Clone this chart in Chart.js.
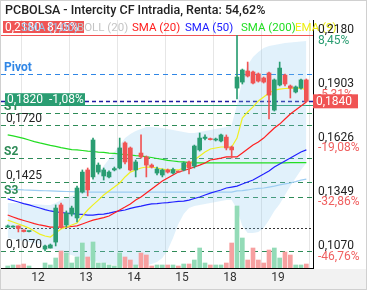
<!DOCTYPE html>
<html>
<head>
<meta charset="utf-8">
<script src="https://cdn.jsdelivr.net/npm/chart.js@4.4.1/dist/chart.umd.min.js"></script>
<style>html,body{margin:0;padding:0;background:#fff}canvas{display:block}</style>
</head>
<body>
<canvas id="c" width="367" height="290"></canvas>
<script>
// Intraday candles (one per hour), index 0..56
const openP  = [0.1193,0.1193,0.1199,0.1178,0.1170,null,null,0.1080,0.1085,0.1116, 0.1307,0.1204,0.1260,0.1240,0.1373,0.1487,0.1451,0.1476,0.1456,0.1451, 0.1487,0.1497,0.1626,0.1600,0.1487,0.1574,0.1554,0.1512,0.1471,0.1461, 0.1487,0.1471,0.1479,0.1487,0.1528,0.1507,0.1590,0.1649,0.1646,0.1641, 0.1636,0.1656,0.1605,0.1908,0.1939,0.1996,0.1991,0.1981,0.1960,0.1986, 0.1795,0.1924,0.1975,0.1919,0.1888,0.1908,0.1950];
const closeP = [0.1199,0.1196,0.1186,0.1170,0.1173,null,null,0.1096,0.1101,0.1291, 0.1193,0.1265,0.1291,0.1394,0.1476,0.1384,0.1641,0.1512,0.1487,0.1476, 0.1494,0.1600,0.1528,0.1487,0.1528,0.1554,0.1512,0.1502,0.1492,0.1487, 0.1476,0.1489,0.1476,0.1523,0.1497,0.1610,0.1651,0.1656,0.1643,0.1646, 0.1667,0.1600,0.1590,0.1965,0.2001,0.1970,0.1934,0.1944,0.1939,0.1872, 0.1950,0.2011,0.1929,0.1908,0.1914,0.1950,0.1840];
const highP  = [0.1204,0.1199,0.1199,0.1178,0.1173,null,null,0.1101,0.1106,0.1307, 0.1317,0.1276,0.1301,0.1404,0.1487,0.1497,0.1651,0.1523,0.1497,0.1482, 0.1502,0.1651,0.1631,0.1605,0.1538,0.1667,0.1559,0.1518,0.1502,0.1492, 0.1492,0.1497,0.1482,0.1528,0.1533,0.1615,0.1677,0.1667,0.1651,0.1651, 0.1672,0.1667,0.1610,0.2180,0.2006,0.2042,0.1996,0.1986,0.1965,0.1991, 0.1955,0.2042,0.1980,0.1924,0.1919,0.1955,0.1955];
const lowP   = [0.1191,0.1193,0.1168,0.1168,0.1168,null,null,0.1070,0.1085,0.1096, 0.1188,0.1193,0.1250,0.1219,0.1368,0.1353,0.1440,0.1466,0.1435,0.1446, 0.1482,0.1492,0.1518,0.1482,0.1451,0.1548,0.1451,0.1497,0.1461,0.1451, 0.1471,0.1466,0.1474,0.1482,0.1466,0.1497,0.1584,0.1641,0.1641,0.1636, 0.1631,0.1590,0.1548,0.1852,0.1929,0.1965,0.1929,0.1939,0.1934,0.1749, 0.1790,0.1919,0.1919,0.1857,0.1883,0.1903,0.1836];
const volume = [2,3,3,4,2,null,null,5,3,10, 17,15,5,11,25,11,26,5,5,3, 2,15,11,8,3,15,13,2,3,3, 3,3,2,4,4,8,20,5,3,3, 3,5,25,62,30,8,20,8,5,18, 20,10,16,13,3,3,4];

// Indicators
const sma20  = [0.1255,0.1245,0.1235,0.1227,0.1219,0.1211,0.1204,0.1199,0.1193,0.1193, 0.1193,0.1193,0.1196,0.1199,0.1209,0.1219,0.1229,0.1235,0.1242,0.1250, 0.1265,0.1281,0.1296,0.1312,0.1332,0.1348,0.1368,0.1389,0.1410,0.1430, 0.1446,0.1461,0.1476,0.1484,0.1492,0.1502,0.1512,0.1523,0.1538,0.1543, 0.1548,0.1554,0.1554,0.1554,0.1574,0.1595,0.1615,0.1631,0.1651,0.1677, 0.1703,0.1723,0.1749,0.1775,0.1795,0.1816,0.1836];
const sma50  = [0.1338,0.1330,0.1322,0.1314,0.1307,0.1299,0.1291,0.1283,0.1276,0.1271, 0.1268,0.1265,0.1263,0.1260,0.1258,0.1255,0.1255,0.1258,0.1260,0.1265, 0.1271,0.1276,0.1281,0.1289,0.1296,0.1301,0.1307,0.1312,0.1314,0.1317, 0.1319,0.1322,0.1325,0.1327,0.1332,0.1340,0.1348,0.1358,0.1368,0.1376, 0.1384,0.1394,0.1399,0.1404,0.1415,0.1425,0.1435,0.1451,0.1466,0.1482, 0.1502,0.1518,0.1533,0.1548,0.1564,0.1579,0.1590];
const sma200 = [0.1667,0.1662,0.1656,0.1649,0.1641,0.1633,0.1626,0.1620,0.1613,0.1608, 0.1602,0.1597,0.1592,0.1590,0.1587,0.1584,0.1582,0.1579,0.1577,0.1574, 0.1572,0.1569,0.1566,0.1564,0.1561,0.1559,0.1554,0.1551,0.1546,0.1541, 0.1536,0.1533,0.1530,0.1528,0.1525,0.1523,0.1523,0.1523,0.1523,0.1523, 0.1523,0.1523,0.1523,0.1523,0.1523,0.1523,0.1523,0.1523,0.1523,0.1523, 0.1523,0.1523,0.1523,0.1525,0.1525,0.1525,0.1525];
const ema9   = [0.1229,0.1219,0.1209,0.1199,0.1188,0.1173,0.1157,0.1147,0.1142,0.1163, 0.1183,0.1193,0.1204,0.1214,0.1250,0.1281,0.1307,0.1332,0.1358,0.1379, 0.1399,0.1420,0.1451,0.1476,0.1487,0.1497,0.1502,0.1502,0.1497,0.1492, 0.1487,0.1487,0.1487,0.1497,0.1518,0.1538,0.1559,0.1579,0.1595,0.1600, 0.1605,0.1605,0.1605,0.1651,0.1754,0.1785,0.1811,0.1842,0.1862,0.1883, 0.1898,0.1903,0.1906,0.1908,0.1908,0.1908,0.1898];
const refLine = [0.1389,0.1387,0.1386,0.1384,0.1383,0.1382,0.1381,0.1380,0.1379,0.1378, 0.1377,0.1376,0.1375,0.1374,0.1374,0.1373,0.1373,0.1373,0.1373,0.1373, 0.1373,0.1373,0.1373,0.1373,0.1373,0.1373,0.1373,0.1373,0.1373,0.1373, 0.1373,0.1373,0.1373,0.1373,0.1373,0.1373,0.1373,0.1373,0.1373,0.1373, 0.1373,0.1373,0.1373,0.1379,0.1381,0.1384,0.1389,0.1392,0.1394,0.1399, 0.1404,0.1410,0.1415,0.1420,0.1427,0.1435,0.1440];
const bollUp  = [0.1317,0.1317,0.1317,0.1314,0.1312,0.1312,0.1309,0.1307,0.1307,0.1317, 0.1332,0.1343,0.1353,0.1363,0.1394,0.1415,0.1435,0.1471,0.1507,0.1543, 0.1579,0.1615,0.1651,0.1672,0.1687,0.1698,0.1708,0.1708,0.1705,0.1703, 0.1698,0.1692,0.1687,0.1682,0.1677,0.1677,0.1682,0.1687,0.1692,0.1698, 0.1703,0.1708,0.1718,0.1821,0.1950,0.2027,0.2068,0.2094,0.2114,0.2125, 0.2130,0.2135,0.2140,0.2143,0.2145,0.2148,0.2150];
const bollLow = [0.1137,0.1132,0.1127,0.1121,0.1116,0.1111,0.1106,0.1096,0.1085,0.1075, 0.1065,0.1055,0.1049,0.1039,0.1034,0.1024,0.1019,0.1013,0.1008,0.1003, 0.0998,0.0995,0.0993,0.0993,0.0993,0.0993,0.0998,0.1003,0.1013,0.1034, 0.1075,0.1137,0.1209,0.1260,0.1291,0.1301,0.1307,0.1312,0.1317,0.1322, 0.1327,0.1332,0.1332,0.1286,0.1199,0.1163,0.1163,0.1168,0.1188,0.1229, 0.1276,0.1312,0.1358,0.1404,0.1446,0.1487,0.1523];

// Day boundaries on the x axis
const dayTicks  = [7, 16, 25, 34, 43, 52];
const dayLabels = ["12", "13", "14", "15", "18", "19"];

// Right axis ticks
const priceTicks = [0.2180, 0.1903, 0.1626, 0.1349, 0.1070];
const pctTicks   = ["8,45%", "-5,31%", "-19,08%", "-32,86%", "-46,76%"];

// Horizontal levels
const pivot = 0.1980;
const supports = [["S1", 0.1782], ["S2", 0.1548], ["S3", 0.1348]];
const supportPrices = [0.1720, 0.1425, 0.1070];
const maxPrice = 0.2180, lastPrice = 0.1840, refPrice = 0.1820, lowGuide = 0.1186;
const lastPct = "-1,08%", maxPct = "8,45%";
const title = "PCBOLSA - Intercity CF Intradia, Renta: 54,62%";

const UP = "#2a9d72", DOWN = "#f05454";
const idx = openP.map((_, i) => i);
const has = i => openP[i] !== null;
const isUp = i => closeP[i] >= openP[i];
const fmt = v => v.toFixed(4).replace(".", ",");
const pts = arr => arr.map((v, i) => ({x: i, y: v}));
const line = (label, arr, color, order) => ({
  type: "line", label, data: pts(arr), borderColor: color, borderWidth: 1.2,
  pointRadius: 0, fill: false, tension: 0, order, yAxisID: "y"
});

const levelsPlugin = {
  id: "levels",
  beforeDraw(chart){
    const c = chart.ctx;
    c.save();
    c.fillStyle = "#fff"; c.fillRect(0, 0, chart.width, chart.height);
    c.fillStyle = "#f2f2f2"; c.fillRect(1, 269, 365, 20);
    c.restore();
  },
  beforeDatasetsDraw(chart){
    const c = chart.ctx, a = chart.chartArea, y = chart.scales.y;
    const hl = (v, color, dash, w) => {
      const p = Math.round(y.getPixelForValue(v)) + 0.5;
      c.beginPath(); c.setLineDash(dash); c.strokeStyle = color; c.lineWidth = w || 1;
      c.moveTo(a.left, p); c.lineTo(a.right, p); c.stroke();
    };
    c.save();
    hl(maxPrice, DOWN, []);
    hl(pivot, "#2f86e6", [5, 4]);
    supports.forEach(s => hl(s[1], "#2e8b57", [5, 4]));
    supportPrices.forEach(v => hl(v, "#2e8b57", [5, 4]));
    hl(lowGuide, "#333", [2, 2]);
    hl(refPrice, UP, []);
    hl(lastPrice, "#1c1ca0", [4, 3], 1.3);
    c.restore();
  },
  afterDraw(chart){
    const c = chart.ctx, y = chart.scales.y;
    const py = v => y.getPixelForValue(v);
    c.save();
    c.textBaseline = "middle";
    c.setLineDash([]);

    // left level labels
    c.font = "bold 12px Roboto";
    c.fillStyle = "#2f86e6"; c.fillText("Pivot", 4, py(pivot) - 6);
    c.fillStyle = "#2e8b57";
    supports.forEach(s => c.fillText(s[0], 4, py(s[1]) - 6));
    c.font = "12px Roboto"; c.fillStyle = "#222";
    supportPrices.forEach(v => c.fillText(fmt(v), 6, py(v) - 6));

    // left value box for the reference close
    const gy = py(refPrice);
    c.fillStyle = UP; c.fillRect(5, gy - 12, 80, 12);
    c.fillStyle = "#fff"; c.font = "12px Roboto";
    c.fillText(fmt(refPrice) + "  " + lastPct, 7, gy - 5.5);

    // top-left max box + legend
    c.fillStyle = DOWN; c.fillRect(3, 21, 81, 12);
    c.fillStyle = "#fff"; c.fillText(fmt(maxPrice) + "  " + maxPct, 5, 27.5);
    c.font = "11.5px Roboto";
    c.fillStyle = "rgba(150,200,240,0.95)"; c.fillText("SMA (1,00)", 21, 28);
    const legend = [["BOLL (20)", "#c4c4c4", 77], ["SMA (20)", "#ff2020", 132],
      ["SMA (50)", "#2020ff", 185], ["SMA (200)", "#22dd22", 241], ["EMA (9)", "#eeee10", 295]];
    legend.forEach(l => { c.fillStyle = l[1]; c.fillText(l[0], l[2], 28); });

    // title
    c.font = "500 12.5px Roboto"; c.fillStyle = "#222";
    c.fillText(title, 5, 11);

    // right axis labels
    c.font = "12px Roboto";
    priceTicks.forEach((v, i) => {
      const p = py(v);
      c.fillStyle = "#222"; c.fillText(fmt(v), 318, p - 5);
      c.fillStyle = pctTicks[i].startsWith("-") ? "#f06060" : UP;
      c.fillText(pctTicks[i], 318, p + 5.5);
    });
    const lp = py(lastPrice);
    c.fillStyle = DOWN; c.fillRect(313, lp - 7, 45, 14);
    c.fillStyle = "#fff"; c.fillText(fmt(lastPrice), 316, lp + 0.5);

    // outer frame
    c.strokeStyle = "#d0d0d0"; c.lineWidth = 1;
    c.strokeRect(0.5, 0.5, chart.width - 1, chart.height - 1);
    c.restore();
  }
};

const candles = idx.filter(has);

new Chart(document.getElementById("c"), {
  type: "bar",
  data: {
    datasets: [
      { label: "body", data: candles.map(i => ({x: i, y: [openP[i], closeP[i]]})),
        backgroundColor: candles.map(i => isUp(i) ? UP : DOWN),
        barThickness: 4, grouped: false, minBarLength: 1, order: 0, yAxisID: "y" },
      { label: "wick", data: candles.map(i => ({x: i, y: [lowP[i], highP[i]]})),
        backgroundColor: candles.map(i => isUp(i) ? UP : DOWN),
        barThickness: 1, grouped: false, order: 1, yAxisID: "y" },
      line("EMA (9)", ema9, "#f0f020", 2),
      line("SMA (20)", sma20, "#ff2020", 3),
      line("SMA (50)", sma50, "#2020ff", 4),
      line("SMA (200)", sma200, "#22dd22", 5),
      line("SMA (1,00)", refLine, "#9dcdf2", 6),
      { label: "vol", data: candles.map(i => ({x: i, y: volume[i]})),
        backgroundColor: candles.map(i => isUp(i) ? "#93dbb7" : "#f7a0a0"),
        barThickness: 4, grouped: false, order: 7, yAxisID: "yv" },
      { type: "line", label: "BOLL up", data: pts(bollUp), borderWidth: 0, pointRadius: 0,
        fill: "+1", backgroundColor: "rgba(140,200,240,0.26)", order: 8, yAxisID: "y" },
      { type: "line", label: "BOLL low", data: pts(bollLow), borderWidth: 0, pointRadius: 0,
        fill: false, order: 9, yAxisID: "y" }
    ]
  },
  options: {
    responsive: false, animation: false, devicePixelRatio: 1,
    layout: { padding: { top: 20, left: 1, right: 0, bottom: 0 } },
    plugins: { legend: { display: false }, tooltip: { enabled: false } },
    scales: {
      x: {
        type: "linear", min: -1.256, max: 57.25, offset: false,
        grid: { color: "#e6e6e6", drawTicks: false },
        border: { display: true, color: "#000" },
        afterBuildTicks: s => { s.ticks = dayTicks.map(v => ({value: v})); },
        afterFit: s => { s.height = 22; },
        ticks: { color: "#333", font: { family: "Roboto", size: 12 }, padding: 3, labelOffset: -7,
          maxRotation: 0, autoSkip: false,
          callback: v => dayLabels[dayTicks.indexOf(v)] }
      },
      y: {
        position: "right", min: 0.09826, max: 0.22583,
        grid: { display: false },
        border: { display: true, color: "#000" },
        ticks: { display: false },
        afterFit: s => { s.width = 54; }
      },
      yv: { display: false, min: 0, max: 248 }
    }
  },
  plugins: [levelsPlugin]
});
</script>
</body>
</html>
